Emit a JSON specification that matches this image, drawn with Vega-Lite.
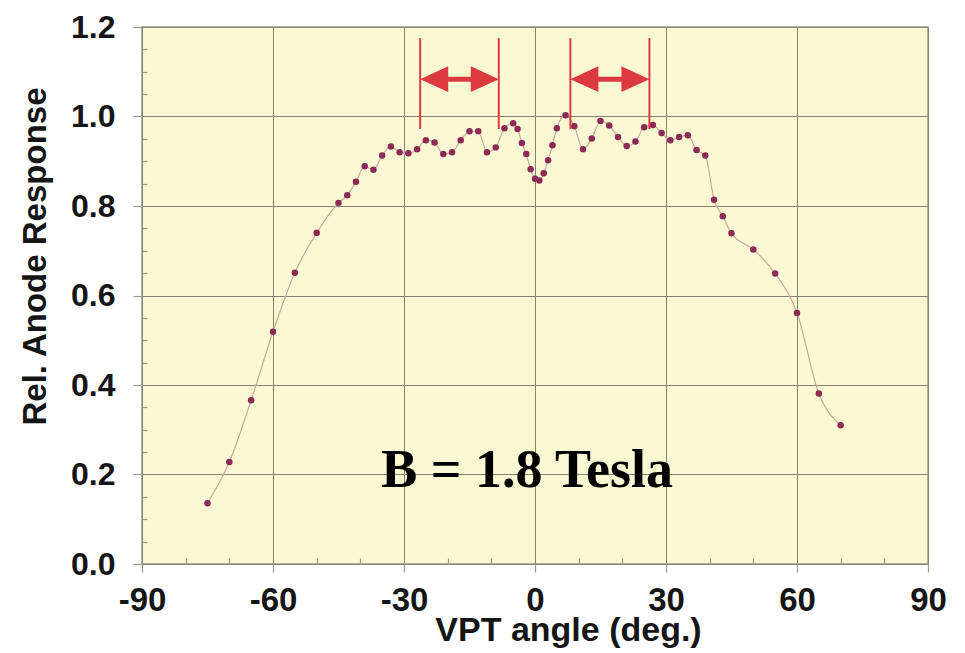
{
  "$schema": "https://vega.github.io/schema/vega-lite/v6.json",
  "width": 786,
  "height": 537,
  "autosize": {"type": "none"},
  "padding": {"left": 142, "top": 27, "right": 37, "bottom": 89},
  "background": "white",
  "config": {
    "view": {"fill": "#fbf9d3", "stroke": "#9d9c8c", "strokeWidth": 1.5}
  },
  "datasets": {
    "response": [
      {"angle": -75, "rel": 0.136},
      {"angle": -70, "rel": 0.228},
      {"angle": -65, "rel": 0.366},
      {"angle": -60, "rel": 0.519},
      {"angle": -55, "rel": 0.651},
      {"angle": -50, "rel": 0.740},
      {"angle": -45, "rel": 0.807},
      {"angle": -43, "rel": 0.824},
      {"angle": -41, "rel": 0.854},
      {"angle": -39, "rel": 0.889},
      {"angle": -37, "rel": 0.881},
      {"angle": -35, "rel": 0.913},
      {"angle": -33, "rel": 0.933},
      {"angle": -31, "rel": 0.920},
      {"angle": -29, "rel": 0.918},
      {"angle": -27, "rel": 0.927},
      {"angle": -25, "rel": 0.947},
      {"angle": -23, "rel": 0.942},
      {"angle": -21, "rel": 0.916},
      {"angle": -19, "rel": 0.920},
      {"angle": -17, "rel": 0.947},
      {"angle": -15, "rel": 0.967},
      {"angle": -13, "rel": 0.967},
      {"angle": -11, "rel": 0.920},
      {"angle": -9, "rel": 0.931},
      {"angle": -7, "rel": 0.974},
      {"angle": -5, "rel": 0.985},
      {"angle": -4, "rel": 0.972},
      {"angle": -3, "rel": 0.941},
      {"angle": -2, "rel": 0.916},
      {"angle": -1, "rel": 0.882},
      {"angle": 0, "rel": 0.861},
      {"angle": 1, "rel": 0.857},
      {"angle": 2, "rel": 0.873},
      {"angle": 3, "rel": 0.902},
      {"angle": 4, "rel": 0.936},
      {"angle": 5, "rel": 0.974},
      {"angle": 7, "rel": 1.003},
      {"angle": 9, "rel": 0.978},
      {"angle": 11, "rel": 0.927},
      {"angle": 13, "rel": 0.951},
      {"angle": 15, "rel": 0.990},
      {"angle": 17, "rel": 0.980},
      {"angle": 19, "rel": 0.954},
      {"angle": 21, "rel": 0.934},
      {"angle": 23, "rel": 0.944},
      {"angle": 25, "rel": 0.976},
      {"angle": 27, "rel": 0.981},
      {"angle": 29, "rel": 0.963},
      {"angle": 31, "rel": 0.947},
      {"angle": 33, "rel": 0.954},
      {"angle": 35, "rel": 0.958},
      {"angle": 37, "rel": 0.925},
      {"angle": 39, "rel": 0.913},
      {"angle": 41, "rel": 0.814},
      {"angle": 43, "rel": 0.777},
      {"angle": 45, "rel": 0.739},
      {"angle": 50, "rel": 0.703},
      {"angle": 55, "rel": 0.649},
      {"angle": 60, "rel": 0.561},
      {"angle": 65, "rel": 0.381},
      {"angle": 70, "rel": 0.310}
    ],
    "brackets": [
      {"angle": -26.3, "top": 1.175, "bottom": 0.972},
      {"angle": -8.3, "top": 1.175, "bottom": 0.972},
      {"angle": 8.1, "top": 1.175, "bottom": 0.972},
      {"angle": 26.2, "top": 1.175, "bottom": 0.972}
    ],
    "shafts": [
      {"from": -23.5, "to": -11.2, "level": 1.0835},
      {"from": 11.0, "to": 23.3, "level": 1.0835}
    ],
    "heads": [
      {"angle": -26.3, "level": 1.0835, "dir": "left"},
      {"angle": -8.3, "level": 1.0835, "dir": "right"},
      {"angle": 8.1, "level": 1.0835, "dir": "left"},
      {"angle": 26.2, "level": 1.0835, "dir": "right"}
    ],
    "note": [
      {"angle": -1.8, "rel": 0.172, "text": "B = 1.8 Tesla"}
    ]
  },
  "resolve": {"axis": {"x": "independent", "y": "independent"}},
  "layer": [
    {
      "data": {"name": "response"},
      "mark": {"type": "line", "interpolate": "monotone", "color": "#c9a99b", "strokeWidth": 1.2},
      "encoding": {
        "x": {
          "field": "angle", "type": "quantitative",
          "scale": {"domain": [-90, 90], "nice": false, "zero": false},
          "axis": {
            "orient": "bottom",
            "values": [-90, -60, -30, 0, 30, 60, 90],
            "labelExpr": "datum.value < 0 ? '-' + abs(datum.value) : '' + datum.value",
            "grid": true, "gridColor": "#85846f", "gridWidth": 1,
            "domain": false,
            "tickColor": "#9a9a8a", "tickSize": 8, "tickWidth": 1.2,
            "labelFont": "Liberation Sans", "labelFontWeight": "bold", "labelFontSize": 33,
            "labelColor": "#151515", "labelPadding": 12, "labelFlush": false, "labelOverlap": false,
            "title": "VPT angle (deg.)",
            "titleFont": "Liberation Sans", "titleFontWeight": "bold", "titleFontSize": 34,
            "titleColor": "#151515", "titleX": 426, "titleY": 76,
            "titleAlign": "center", "titleBaseline": "alphabetic"
          }
        },
        "y": {
          "field": "rel", "type": "quantitative",
          "scale": {"domain": [0, 1.2], "nice": false},
          "axis": {
            "orient": "left",
            "values": [0, 0.2, 0.4, 0.6, 0.8, 1.0, 1.2],
            "format": ".1f",
            "grid": true, "gridColor": "#85846f", "gridWidth": 1,
            "domain": false,
            "tickColor": "#9a9a8a", "tickSize": 9, "tickWidth": 1.2,
            "labelFont": "Liberation Sans", "labelFontWeight": "bold", "labelFontSize": 32,
            "labelColor": "#151515", "labelPadding": 18, "labelOverlap": false,
            "title": "Rel. Anode Response",
            "titleFont": "Liberation Sans", "titleFontWeight": "bold", "titleFontSize": 33,
            "titleColor": "#151515", "titleAngle": 270, "titleX": -97, "titleY": 229,
            "titleAlign": "center", "titleBaseline": "alphabetic"
          }
        }
      }
    },
    {
      "data": {"name": "response"},
      "mark": {"type": "point", "filled": true, "shape": "circle", "color": "#8c2a57", "size": 42, "opacity": 1},
      "encoding": {
        "x": {"field": "angle", "type": "quantitative", "axis": null},
        "y": {"field": "rel", "type": "quantitative", "axis": null}
      }
    },
    {
      "data": {"name": "shafts"},
      "mark": {"type": "rule", "color": "#dc3a3f", "strokeWidth": 5},
      "encoding": {
        "x": {
          "field": "from", "type": "quantitative",
          "axis": {
            "orient": "bottom",
            "values": [-80, -70, -50, -40, -20, -10, 10, 20, 40, 50, 70, 80],
            "grid": false, "domain": false, "labels": false, "title": null,
            "ticks": true, "tickSize": -6, "tickColor": "#9a9a8a", "tickWidth": 1.2
          }
        },
        "x2": {"field": "to"},
        "y": {
          "field": "level", "type": "quantitative",
          "axis": {
            "orient": "left",
            "values": [0.05, 0.1, 0.15, 0.25, 0.3, 0.35, 0.45, 0.5, 0.55, 0.65, 0.7, 0.75, 0.85, 0.9, 0.95, 1.05, 1.1, 1.15],
            "grid": false, "domain": false, "labels": false, "title": null,
            "ticks": true, "tickSize": -5, "tickColor": "#9a9a8a", "tickWidth": 1.2
          }
        }
      }
    },
    {
      "data": {"name": "brackets"},
      "mark": {"type": "rule", "color": "#dc3a3f", "strokeWidth": 2},
      "encoding": {
        "x": {"field": "angle", "type": "quantitative", "axis": null},
        "y": {"field": "bottom", "type": "quantitative", "axis": null},
        "y2": {"field": "top"}
      }
    },
    {
      "data": {"name": "heads"},
      "mark": {"type": "point", "filled": true, "opacity": 1, "color": "#dc3a3f", "size": 784, "strokeWidth": 0},
      "encoding": {
        "x": {"field": "angle", "type": "quantitative", "axis": null},
        "y": {"field": "level", "type": "quantitative", "axis": null},
        "shape": {
          "field": "dir", "type": "nominal", "legend": null,
          "scale": {"domain": ["left", "right"], "range": ["M0,0L2,-0.92L2,0.92Z", "M0,0L-2,-0.92L-2,0.92Z"]}
        }
      }
    },
    {
      "data": {"name": "note"},
      "mark": {"type": "text", "font": "Liberation Serif", "fontWeight": "bold", "fontSize": 54, "color": "#000000", "align": "center", "baseline": "alphabetic"},
      "encoding": {
        "x": {"field": "angle", "type": "quantitative", "axis": null},
        "y": {"field": "rel", "type": "quantitative", "axis": null},
        "text": {"field": "text"}
      }
    }
  ]
}
